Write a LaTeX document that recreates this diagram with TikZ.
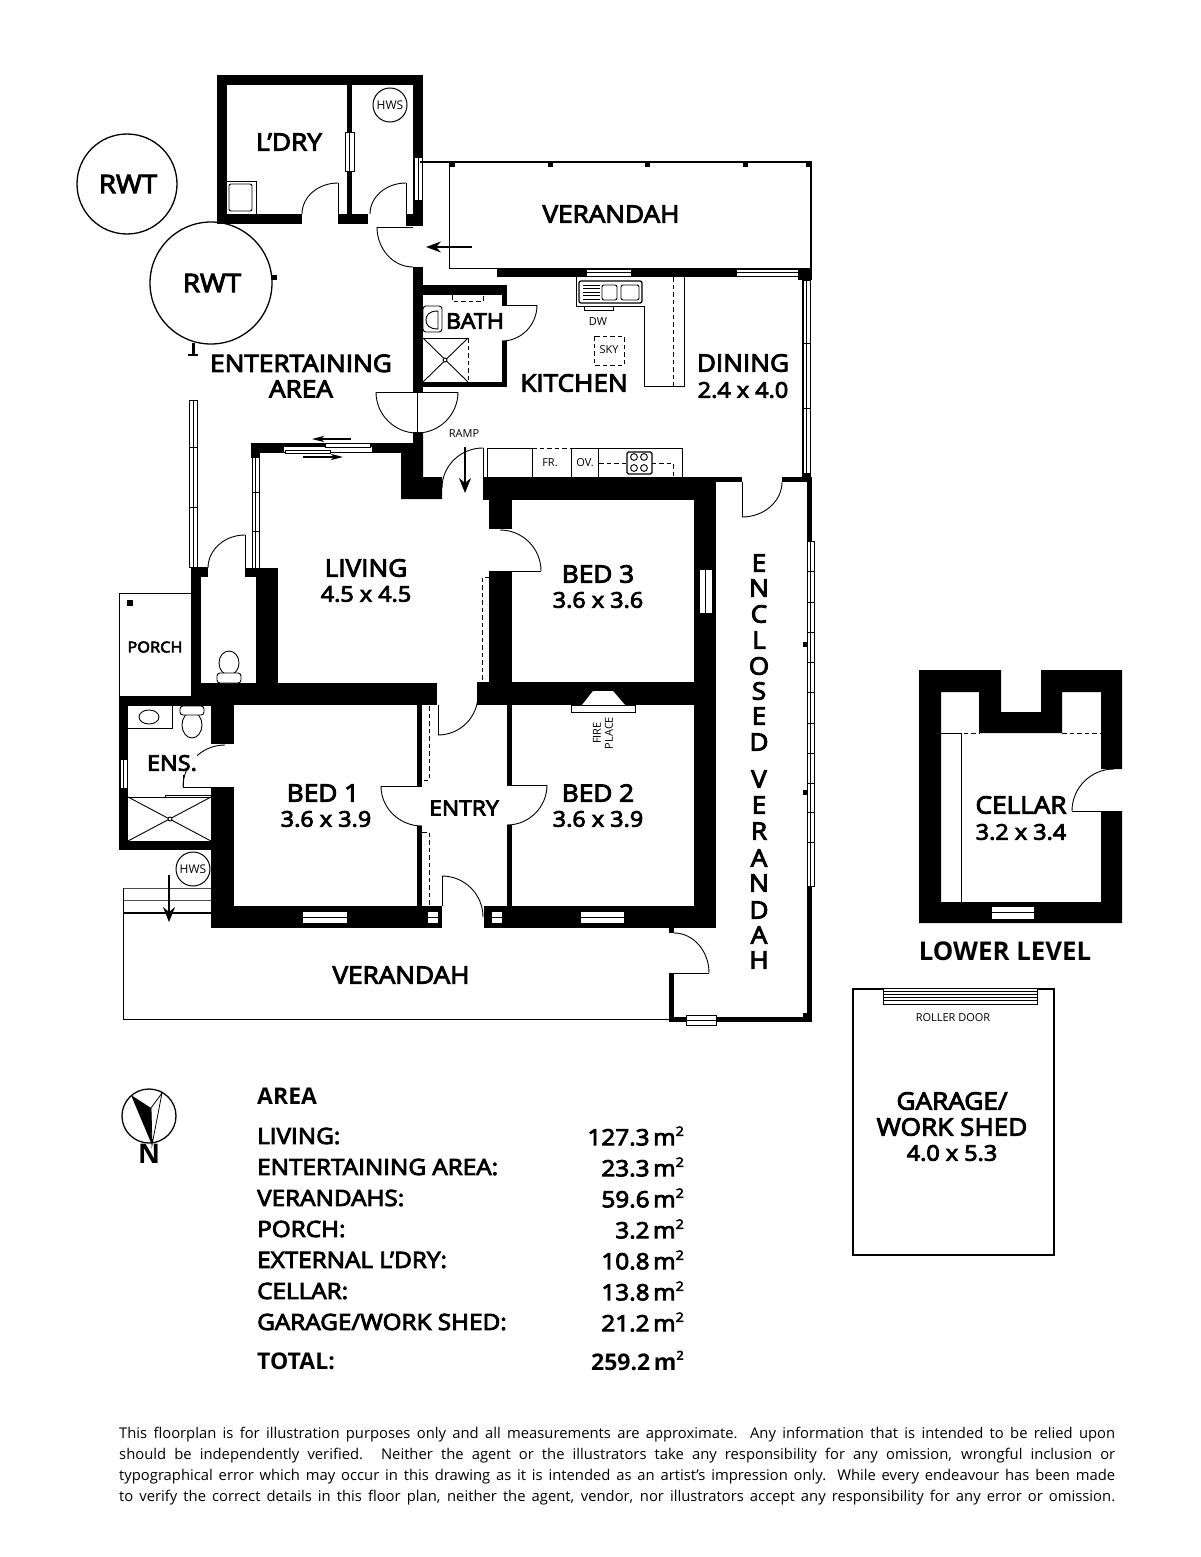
\documentclass[tikz,border=0pt]{standalone}
\usepackage{fontspec}
\usetikzlibrary{calc,arrows.meta}
\setmainfont{Open Sans}
\newfontfamily\labf{Open Sans}[FakeStretch=1.09,FakeBold=4]
\newfontfamily\boldf{Open Sans}[FakeStretch=1.0]
\newcommand{\Wl}[4]{\fill[black] (#1,#2) rectangle (#3,#4);}
\newcommand{\Qarc}[6]{\draw[doorline] (#1,#2) .. controls ($(#1,#2)!.5523!(#3,#4)$) and ($(#5,#6)!.5523!(#3,#4)$) .. (#5,#6);}
\newcommand{\WinH}[4]{\draw[winline,fill=white] (#1,#2) rectangle (#3,#4); \draw[winline] (#1,{(#2+#4)/2}) -- (#3,{(#2+#4)/2});}
\newcommand{\WinV}[4]{\draw[winline,fill=white] (#1,#2) rectangle (#3,#4); \draw[winline] ({(#1+#3)/2},#2) -- ({(#1+#3)/2},#4);}
\newcommand{\SqM}{\raisebox{.42em}{\fontsize{13}{13}\selectfont 2}}
\tikzset{
 doorline/.style={line width=.9pt},
 winline/.style={line width=.8pt},
 thinl/.style={line width=.9pt},
 medl/.style={line width=1.6pt},
 dashl/.style={line width=.9pt,dash pattern=on 4.5pt off 3pt},
 arr/.style={line width=1.1pt,-{Stealth[length=15pt,width=11pt,inset=5pt]}},
 lab/.style={font=\labf\fontsize{24}{24}\selectfont,align=center,inner sep=0pt},
 dim/.style={font=\labf\fontsize{21.5}{21.5}\selectfont,align=center,inner sep=0pt},
 smalll/.style={font=\fontsize{11}{11}\selectfont,align=center,inner sep=0pt},
 arealab/.style={font=\labf\fontsize{22.3}{22.3}\selectfont,anchor=west,inner sep=0pt},
 areaval/.style={font=\labf\fontsize{22.3}{22.3}\selectfont,anchor=east,inner sep=0pt},
 areab/.style={font=\boldf\bfseries\fontsize{23}{23}\selectfont,inner sep=0pt},
 tank/.style={circle,draw,line width=1.3pt,inner sep=0pt},
 hws/.style={circle,draw,line width=1pt,inner sep=0pt,minimum size=34pt,font=\fontsize{12}{12}\selectfont},
}
\begin{document}
\begin{tikzpicture}[x=1pt,y=-1pt]
\useasboundingbox (0,0) rectangle (1200,1557);
\fill[white] (0,0) rectangle (1200,1557);
% ---------- tanks
\node[tank,minimum size=100pt,font=\labf\fontsize{25.5}{25.5}\selectfont] (rwta) at (127,184) {\makebox[0pt]{\hspace{2pt}RWT}};
\Wl{272}{275}{277}{280}
\Wl{192}{343}{195}{356}
\Wl{188}{354}{198}{356}
\node[tank,minimum size=122pt,fill=white,font=\labf\fontsize{25.5}{25.5}\selectfont] (rwtb) at (211,283) {\makebox[0pt]{\hspace{2pt}RWT}};
% ---------- laundry
\Wl{217}{75}{423}{85}
\Wl{217}{75}{227}{224}
\Wl{413}{75}{423}{226}
\Wl{217}{214}{302}{224}
\Wl{338}{214}{368}{224}
\Wl{406}{214}{423}{226}
\Wl{347}{85}{352}{214}
\WinV{345.5}{132}{354}{171}
\WinV{414}{157}{422}{200}
\draw[thinl] (338,214) -- (338,183);
\Qarc{338}{183}{302}{183}{302}{214}
\draw[thinl] (406,214) -- (406,183);
\Qarc{406}{183}{370}{183}{370}{214}
\draw[thinl] (413,227) -- (377,227);
\Qarc{377}{227}{377}{267}{413}{267}
\draw[thinl] (227,181) -- (256,181) -- (256,214);
\draw[thinl,rounded corners=2pt] (229,184) rectangle (252,211);
\node[hws] (hwsa) at (390,105) {HWS};
\node[lab] (ldry) at (289,142) {L’DRY};
% ---------- north verandah
\draw[medl] (420,162) -- (811,162) -- (811,268);
\draw[thinl] (449,162) -- (449,268) -- (497,268);
\foreach \px in {450,548,645,743,806}{\Wl{\px}{162}{\px+5}{167}}
\draw[arr] (472,247) -- (426,247);
\node[lab] (vn) at (611,214) {VERANDAH};
% ---------- kitchen / bath walls
\Wl{413}{267}{423}{392}
\Wl{413}{285}{507}{295}
\Wl{497}{268}{812}{277}
\Wl{502}{285}{507}{305}
\Wl{502}{341}{507}{387}
\Wl{423}{382}{507}{387}
\Wl{798}{268}{812}{280}
\Wl{413}{432}{423}{477}
\WinH{586}{269}{631}{276}
\WinH{736}{269}{798}{276}
\draw[thinl] (502,305) -- (537,305);
\Qarc{537}{305}{537}{341}{502}{341}
% east wall window
\Wl{802}{277}{811}{482}
\WinV{803}{280}{810}{473}
\draw[winline] (803,343) -- (810,343) (803,408) -- (810,408);
% double doors
\draw[thinl] (376,392) -- (458,392) (417,392) -- (417,432);
\Qarc{376}{392}{376}{433}{417}{433}
\Qarc{458}{392}{458}{433}{417}{433}
% bath fittings
\draw[dashl] (452,295) -- (452,301) -- (483,301) -- (483,295);
\draw[thinl,rounded corners=3pt] (423,306) rectangle (442,332);
\draw[thinl] (438,311) .. controls (428,311) and (426,316) .. (426,320) .. controls (426,325) and (429,329) .. (438,329) -- cycle;
\draw[thinl] (423,338) -- (468,338) (423,382) -- (468,382);
\draw[dashl] (468,338) -- (468,382);
\draw[thinl] (423,338) -- (468,382) (423,382) -- (468,338);
\draw[thinl,fill=white] (445,360) circle (2pt);
\node[font=\labf\fontsize{21.5}{21.5}\selectfont,fill=white,inner sep=0pt] (bath) at (475,321) {BATH};
% kitchen fittings
\draw[thinl] (576,277) -- (576,306) -- (644,306) -- (644,386) -- (684,386) -- (684,277);
\draw[dashl] (673,277) -- (673,386);
\draw[line width=1.3pt,rounded corners=2pt] (579,281) rectangle (642,303);
\draw[thinl,rounded corners=2pt] (602,285) rectangle (617,300);
\draw[thinl,rounded corners=2pt] (621,285) rectangle (639,300);
\foreach \py in {285,288.5,292,295.5,299}{\draw[line width=.8pt] (583,\py) -- (600,\py);}
\draw[thinl] (584,306) -- (584,310) -- (613,310) -- (613,306);
\node[smalll] (dw) at (598,322) {DW};
\draw[dashl] (594,336) rectangle (624,365);
\node[smalll] (sky) at (609,350) {SKY};
\node[lab] (kit) at (574,383) {KITCHEN};
\node[lab] (din) at (743,363) {DINING};
\node[dim] (dind) at (743,390) {2.4 x 4.0};
% kitchen counter
\draw[thinl] (483,477) -- (483,448) (487,477) -- (487,448) -- (532,448) (571,448) -- (682,448) -- (682,477);
\draw[dashl] (532,448) -- (571,448);
\draw[thinl] (532,448) -- (532,477) (571,448) -- (571,477) (598,448) -- (598,477);
\draw[dashl] (599,463) -- (673,463) -- (673,477);
\draw[line width=1.3pt,rounded corners=1.5pt,fill=white] (627,452) rectangle (652,474);
\foreach \cx/\cy in {634/457,644/457,634/468,644/468}{\draw[thinl] (\cx,\cy) circle (3.4pt);}
\node[smalll] (fr) at (550,463) {FR.};
\node[smalll] (ov) at (585,463) {OV.};
\node[smalll] (ramp) at (464,434) {RAMP};
% ---------- central block walls
\Wl{483}{477}{716}{500}
\Wl{716}{477}{742}{482}
\Wl{782}{477}{812}{482}
\Wl{694}{477}{716}{928}
\Wl{477}{682}{716}{705}
\Wl{489}{500}{512}{529}
\Wl{489}{571}{512}{682}
\Wl{507}{705}{512}{785}
\Wl{507}{825}{512}{906}
\Wl{484}{906}{716}{928}
\draw[thinl] (742,482) -- (742,517);
\Qarc{742}{517}{782}{517}{782}{482}
\draw[thinl] (500,571) -- (541,571);
\Qarc{541}{571}{541}{530}{500}{530}
\draw[thinl] (507,785) -- (547,785);
\Qarc{547}{785}{547}{825}{507}{825}
\draw[dashl] (489,577) -- (482,577) -- (482,683);
\WinV{699}{569}{712}{613}
\WinH{580}{911}{624}{923}
\WinH{491}{911}{502}{923}
% fireplace
\fill[white] (582,705) -- (593,691) -- (613,691) -- (625,705) -- cycle;
\draw[thinl,fill=white] (571,705) rectangle (635,712);
\node[font=\fontsize{11}{12}\selectfont,rotate=90,align=center,inner sep=0pt] (fire) at (603,733) {FIRE\\PLACE};
\node[lab] (b3) at (598,574) {BED 3};
\node[dim] (b3d) at (598,600) {3.6 x 3.6};
\node[lab] (b2) at (598,793) {BED 2};
\node[dim] (b2d) at (598,819) {3.6 x 3.9};
% ---------- living
\Wl{251}{443}{413}{453}
\Wl{251}{443}{260}{458}
\fill[black] (401,453) -- (413,453) -- (413,433) -- (423,433) -- (423,477) -- (442,477) -- (442,499) -- (401,499) -- cycle;
\Wl{256}{568}{278}{683}
\Wl{191}{567}{201}{705}
\Wl{191}{567}{208}{577}
\Wl{245}{568}{256}{577}
\Wl{191}{683}{437}{705}
\Wl{478}{683}{512}{705}
\WinV{252}{457}{259}{568}
\draw[winline] (252,492) -- (259,492) (252,531) -- (259,531);
\WinV{189}{400}{197}{567}
\draw[winline] (189,447) -- (197,447) (189,507) -- (197,507);
% sliding door
\draw[winline,fill=white] (283,446) rectangle (372,452);
\draw[winline,fill=white] (325,443) rectangle (370,447);
\draw[winline,fill=white] (285,450) rectangle (330,453);
\draw[line width=1.1pt,-{Stealth[length=12pt,width=6pt,inset=3pt]}] (351,439) -- (312,439);
\draw[line width=1.1pt,-{Stealth[length=12pt,width=6pt,inset=3pt]}] (303,457) -- (343,457);
\draw[thinl] (245,570) -- (245,535);
\Qarc{245}{535}{208}{535}{208}{568}
\draw[thinl] (483,488) -- (483,448);
\Qarc{483}{448}{442}{448}{442}{488}
\draw[line width=1.2pt,-{Stealth[length=15pt,width=12pt,inset=5pt]}] (465,447) -- (465,493);
\draw[thinl] (438,705) -- (438,735);
\Qarc{438}{735}{478}{735}{478}{695}
% WC
\draw[thinl] (229,663) ellipse (10pt and 12pt);
\draw[thinl,rounded corners=3pt,fill=white] (217,673) rectangle (241,683);
\node[lab] (liv) at (366,568) {LIVING};
\node[dim] (livd) at (366,594) {4.5 x 4.5};
\node[lab] (ent) at (301,376) {ENTERTAINING\\[1.5pt]AREA};
% porch
\draw[thinl] (191,593) -- (119,593) -- (119,696) -- (191,696);
\Wl{127}{600}{133}{606}
\node[font=\labf\fontsize{15}{15}\selectfont,inner sep=0pt] (porch) at (155,647) {PORCH};
% ---------- ensuite
\Wl{119}{696}{211}{706}
\Wl{119}{696}{128}{850}
\Wl{119}{841}{211}{850}
\WinV{120}{759}{127}{788}
\draw[thinl] (128,728) -- (172,728) -- (172,706);
\draw[thinl] (149,717) ellipse (10pt and 7pt);
\draw[thinl] (192,725) ellipse (10pt and 13pt);
\draw[thinl,rounded corners=3pt,fill=white] (180,706) rectangle (204,715);
\draw[thinl] (211,787) -- (183,787) -- (183,775);
\Qarc{183}{787}{183}{745}{225}{745}
\draw[thinl] (128,797) -- (211,797);
\draw[thinl] (165,795) rectangle (211,797);
\draw[thinl] (128,797) -- (211,841) (128,841) -- (211,797);
\draw[thinl,fill=white] (170,819) circle (2pt);
\node[font=\labf\fontsize{21.5}{21.5}\selectfont,fill=white,inner sep=0pt] (ens) at (172,763) {ENS.};
% ---------- bed 1 / entry
\Wl{211}{705}{234}{744}
\Wl{211}{787}{234}{928}
\Wl{211}{906}{442}{928}
\Wl{417}{705}{422}{786}
\Wl{417}{826}{422}{906}
\WinH{302}{911}{347}{923}
\WinH{427}{911}{438}{923}
\draw[thinl] (422,786) -- (381,786);
\Qarc{381}{786}{381}{826}{422}{826}
\draw[dashl] (429,706) -- (429,780) -- (422,780);
\draw[dashl] (422,832) -- (429,832) -- (429,906);
\draw[thinl] (442,906) -- (442,876);
\Qarc{442}{876}{483}{876}{483}{917}
\node[lab] (b1) at (323,793) {BED 1};
\node[dim] (b1d) at (326,819) {3.6 x 3.9};
\node[font=\labf\fontsize{21}{21}\selectfont,inner sep=0pt] (entry) at (464,808) {ENTRY};
% ---------- south verandah / steps
\node[hws] (hwsb) at (193,869) {HWS};
\draw[line width=.7pt,black!70] (123,888) -- (211,888) (123,900) -- (211,900);
\draw[medl] (123,913) -- (211,913);
\draw[thinl] (123,888) -- (123,1019) -- (669,1019);
\draw[line width=1.2pt,-{Stealth[length=15pt,width=12pt,inset=5pt]}] (169,875) -- (169,922);
\node[lab] (vs) at (401,975) {VERANDAH};
% ---------- enclosed verandah
\Wl{669}{928}{674}{933}
\Wl{669}{973}{674}{1022}
\Wl{669}{1017}{812}{1022}
\Wl{807}{482}{812}{1022}
\draw[thinl] (669,973) -- (709,973);
\Qarc{709}{973}{709}{933}{674}{933}
\WinV{807}{541}{814.5}{886}
\foreach \py in {571,602,632,662,692,723,753,783,812,842}{\draw[winline] (807,\py) -- (814.5,\py);}
\Wl{803}{642}{807}{647}
\Wl{803}{790}{807}{795}
\Wl{803}{1013}{807}{1017}
\WinH{686}{1015}{716}{1025}
\foreach \ch/\py/\nm in {E/563/a,N/588/b,C/614/c,L/640/d,O/666/e,S/691/f,E/716/g,D/742/h,V/779/i,E/805/j,R/831/k,A/858/l,N/883/m,D/910/n,A/935/o,H/960/p}{
 \node[lab] (ev\nm) at (759,\py) {\ch};
}
% ---------- cellar
\fill[black] (919,670) -- (1001,670) -- (1001,712) -- (1041,712) -- (1041,670) -- (1122,670) -- (1122,769) -- (1101,769) -- (1101,692) -- (1062,692) -- (1062,733) -- (979,733) -- (979,692) -- (941,692) -- (941,902) -- (1101,902) -- (1101,811) -- (1122,811) -- (1122,923) -- (919,923) -- cycle;
\draw[dashl] (941,733) -- (979,733) (1062,733) -- (1101,733);
\draw[thinl] (941,733) -- (961,733) (961,733) -- (961,902);
\draw[thinl] (1114,811) -- (1072,811);
\Qarc{1072}{811}{1072}{769}{1114}{769}
\WinH{991}{906}{1034}{919}
\node[lab] (cel) at (1021,805) {CELLAR};
\node[dim] (celd) at (1021,832) {3.2 x 3.4};
\node[font=\boldf\bfseries\fontsize{25.8}{25.8}\selectfont,inner sep=0pt] (ll) at (1005,951) {LOWER LEVEL};
% ---------- garage
\draw[line width=2.6pt] (883,989) -- (853,989) -- (853,1255) -- (1054,1255) -- (1054,989) -- (1037,989);
\draw[winline,fill=white] (883,988) rectangle (1037,1004);
\foreach \py in {991,994,997,1000}{\draw[line width=.8pt] (883,\py) -- (1037,\py);}
\node[smalll] (roll) at (953,1018) {ROLLER DOOR};
\node[lab] (gar) at (952,1114) {GARAGE/\\[2pt]WORK SHED};
\node[dim] (gard) at (952,1153) {4.0 x 5.3};
% ---------- compass
\node[circle,draw,line width=1.3pt,minimum size=54pt,inner sep=0pt] (comp) at (149,1116) {};
\fill[black] (131,1095) -- (151,1108) -- (152,1145) -- cycle;
\draw[line width=.8pt] (162,1093) -- (151,1108) -- (152,1145) -- cycle;
\node[font=\boldf\bfseries\fontsize{27}{27}\selectfont,inner sep=0pt] (nn) at (149,1154) {N};
% ---------- area table
\node[areab,anchor=west] (ah) at (257,1096) {AREA};
\foreach \lb/\vl/\py/\nm in {LIVING:/127.3/1136/a,ENTERTAINING AREA:/23.3/1167/b,VERANDAHS:/59.6/1198/c,PORCH:/3.2/1229/d,EXTERNAL L’DRY:/10.8/1260/e,CELLAR:/13.8/1291/f,{GARAGE/WORK SHED:}/21.2/1322/g}{
 \node[arealab] (al\nm) at (257,\py) {\lb};
 \node[areaval] (av\nm) at (684,\py) {\vl\hspace{3.5pt}m\SqM};
}
\node[areab,anchor=west] (tl) at (257,1361) {TOTAL:};
\node[areab,anchor=east] (tv) at (684,1361) {259.2\hspace{3.5pt}m\SqM};
% ---------- footer
\node[anchor=north west,inner sep=0pt,align=left,font=\fontsize{14.8}{20.9}\selectfont] (foot) at (119,1427) {%
\makebox[996pt][s]{This floorplan is for illustration purposes only and all measurements are approximate. Any information that is intended to be relied upon}\\
\makebox[996pt][s]{should be independently verified. Neither the agent or the illustrators take any responsibility for any omission, wrongful inclusion or}\\
\makebox[996pt][s]{typographical error which may occur in this drawing as it is intended as an artist’s impression only. While every endeavour has been made}\\
\makebox[996pt][s]{to verify the correct details in this floor plan, neither the agent, vendor, nor illustrators accept any responsibility for any error or omission.}};
\end{tikzpicture}
\end{document}
